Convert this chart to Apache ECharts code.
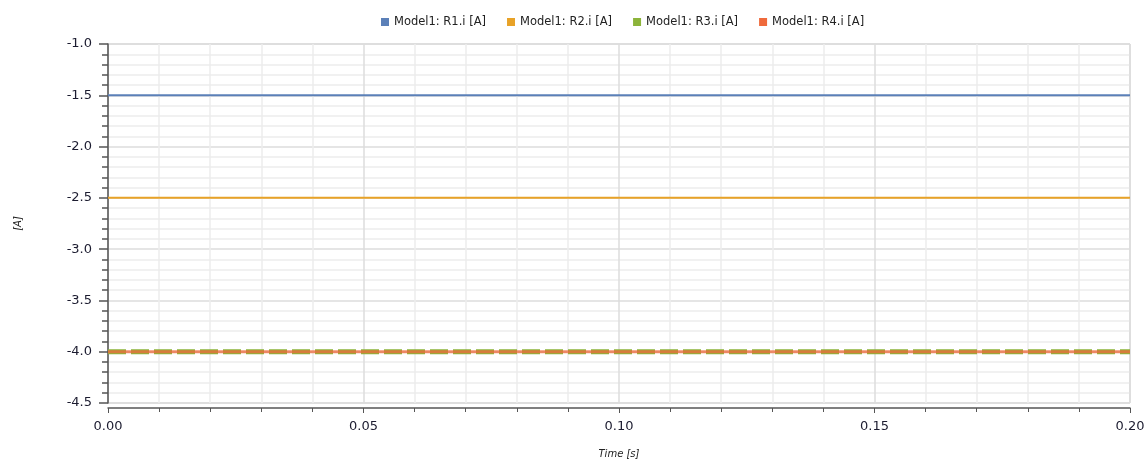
<!DOCTYPE html>
<html>
<head>
<meta charset="utf-8">
<script src="https://cdn.jsdelivr.net/npm/echarts@6/dist/echarts.min.js"></script>
<style>html,body{margin:0;padding:0;background:#fff}#c{width:1145px;height:459px}</style>
</head>
<body>
<div id="c"></div>
<script>
const time = [0, 0.2];
const seriesNames = ['Model1: R1.i [A]', 'Model1: R2.i [A]', 'Model1: R3.i [A]', 'Model1: R4.i [A]'];
const r1 = [-1.5, -1.5];
const r2 = [-2.5, -2.5];
const r3 = [-4.0, -4.0];
const r4 = [-4.0, -4.0];
const colors = ['#5b80b8', '#e8a227', '#8cb43a', '#ef6a3c'];

const pts = arr => time.map((t, i) => [t, arr[i]]);
const font = 'DejaVu Sans, Verdana, sans-serif';

const chart = echarts.init(document.getElementById('c'));
chart.setOption({
  animation: false,
  color: colors,
  legend: {
    top: 11, left: 376, itemWidth: 8, itemHeight: 8, itemGap: 21,
    icon: 'rect',
    textStyle: { fontFamily: font, fontSize: 11.5, color: '#222' },
    data: seriesNames
  },
  grid: { left: 108, right: 15, top: 44, bottom: 56, show: true, borderColor: '#c8c8c8', borderWidth: 1, outerBoundsMode: 'none', containLabel: false },
  xAxis: {
    type: 'value', min: 0, max: 0.2, interval: 0.05, offset: 5,
    name: 'Time [s]', nameLocation: 'middle', nameGap: 41,
    nameTextStyle: { fontFamily: font, fontSize: 10, fontStyle: 'italic', color: '#222' },
    axisLine: { show: true, lineStyle: { color: '#555', width: 1.5 } },
    axisTick: { show: true, length: 5, lineStyle: { color: '#555' } },
    minorTick: { show: true, splitNumber: 5, length: 4, lineStyle: { color: '#555' } },
    axisLabel: { fontFamily: font, fontSize: 13, color: '#1c1c30', margin: 12, formatter: v => v.toFixed(2) },
    splitLine: { show: true, lineStyle: { color: '#dcdcdc', width: 1.5 } },
    minorSplitLine: { show: true, lineStyle: { color: '#ededed', width: 1.5 } }
  },
  yAxis: {
    type: 'value', min: -4.5, max: -1.0, interval: 0.5, offset: 3,
    name: '[A]', nameLocation: 'middle', nameGap: 82, nameRotate: 90,
    nameTextStyle: { fontFamily: font, fontSize: 10, fontStyle: 'italic', color: '#222' },
    axisLine: { show: true, lineStyle: { color: '#555', width: 1.5 } },
    axisTick: { show: true, length: 9, lineStyle: { color: '#555', width: 1.5 } },
    minorTick: { show: true, splitNumber: 5, length: 6, lineStyle: { color: '#555', width: 1.5 } },
    axisLabel: { fontFamily: font, fontSize: 13, color: '#1c1c30', margin: 13, formatter: v => v.toFixed(1) },
    splitLine: { show: true, lineStyle: { color: '#dcdcdc', width: 1.5 } },
    minorSplitLine: { show: true, lineStyle: { color: '#ededed', width: 1.5 } }
  },
  series: [
    { name: seriesNames[0], type: 'line', data: pts(r1), showSymbol: false, lineStyle: { width: 2, color: colors[0] } },
    { name: seriesNames[1], type: 'line', data: pts(r2), showSymbol: false, lineStyle: { width: 2, color: colors[1] } },
    { name: seriesNames[2], type: 'line', data: pts(r3), showSymbol: false, lineStyle: { width: 5, color: colors[2], type: [18, 5] } },
    { name: seriesNames[3], type: 'line', data: pts(r4), showSymbol: false, lineStyle: { width: 3, color: colors[3], opacity: 0.75 } }
  ]
});
</script>
</body>
</html>
